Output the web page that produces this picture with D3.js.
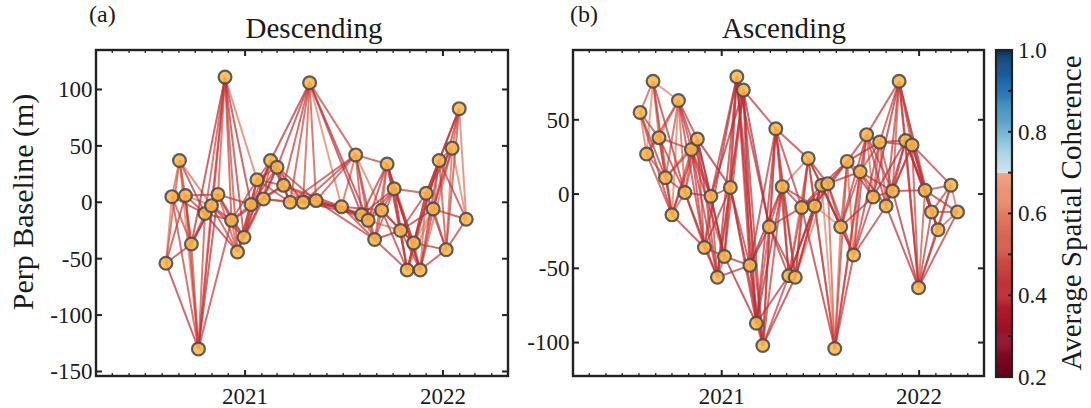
<!DOCTYPE html>
<html>
<head>
<meta charset="utf-8">
<script src="https://cdn.jsdelivr.net/npm/d3@7"></script>
<style>
  body { margin: 0; background: #fff; }
  text { font-family: "Liberation Serif", "Times New Roman", serif; fill: #1a1a1a; }
</style>
</head>
<body>
<svg id="chart" width="1091" height="408"></svg>
<script>
// descending track: acquisition dates and perpendicular baselines (m)
const descDates = ["2020-08-08","2020-08-19","2020-09-02","2020-09-13","2020-09-24","2020-10-07","2020-10-19","2020-10-31","2020-11-12","2020-11-25","2020-12-07","2020-12-18","2020-12-30","2021-01-12","2021-01-23","2021-02-04","2021-02-17","2021-03-01","2021-03-13","2021-03-25","2021-04-18","2021-04-30","2021-05-12","2021-06-28","2021-07-24","2021-08-04","2021-08-16","2021-08-28","2021-09-10","2021-09-20","2021-10-03","2021-10-15","2021-10-27","2021-11-08","2021-11-20","2021-12-01","2021-12-14","2021-12-25","2022-01-07","2022-01-18","2022-01-31","2022-02-13"]
const descBperp = [-54,5,37,6,-37,-130,-10,-3,7,111,-16,-44,-31,-2,20,3,37,31,15,0,0,106,1.5,-4,42,-11,-16,-33,-7,34,12,-25,-60,-36,-60,8,-6,37,-42,48,83,-15]

// ascending track
const ascDates = ["2020-08-03","2020-08-15","2020-08-27","2020-09-07","2020-09-19","2020-10-01","2020-10-13","2020-10-25","2020-11-06","2020-11-17","2020-11-30","2020-12-12","2020-12-24","2021-01-06","2021-01-17","2021-01-29","2021-02-10","2021-02-22","2021-03-06","2021-03-18","2021-03-30","2021-04-11","2021-04-23","2021-05-05","2021-05-17","2021-05-29","2021-06-10","2021-06-22","2021-07-05","2021-07-16","2021-07-29","2021-08-09","2021-08-21","2021-09-02","2021-09-14","2021-09-26","2021-10-08","2021-10-20","2021-11-01","2021-11-13","2021-11-25","2021-12-07","2021-12-19","2021-12-31","2022-01-12","2022-01-24","2022-02-05","2022-03-01","2022-03-13"]
const ascBperp = [55,27,76,38,11,-14,63,1,30,37,-36,-1.5,-56,-42,4.5,79,70,-48,-87,-102,-22,44,5,-55,-56,-9,24,-8,6,7,-104,-22,22,-41,15,40,-2,35,-8,2,76,36,33,-63,2.5,-12,-24,6,-12]

// average coherence of each interferogram, grouped by how many acquisitions apart the pair is
const descCoh = [
  [0.60,0.55,0.58,0.52,0.50,0.48,0.56,0.55,0.50,0.47,0.52,0.55,0.58,0.53,0.56,0.50,0.55,0.52,0.57,0.55,0.50,0.48,0.45,0.52,0.48,0.56,0.54,0.52,0.50,0.55,0.53,0.50,0.48,0.52,0.55,0.50,0.53,0.48,0.55,0.50,0.58],
  [0.50,0.62,0.48,0.45,0.47,0.52,0.46,0.50,0.44,0.48,0.45,0.50,0.47,0.52,0.46,0.48,0.45,0.50,0.62,0.47,0.44,0.60,0.48,0.45,0.50,0.46,0.48,0.52,0.45,0.50,0.47,0.45,0.50,0.48,0.46,0.52,0.45,0.50,0.47,0.60],
  [0.45,0.48,0.60,0.44,0.46,0.42,0.48,0.45,0.50,0.43,0.47,0.45,0.62,0.44,0.48,0.46,0.43,0.47,0.45,0.58,0.44,0.46,0.42,0.48,0.45,0.60,0.44,0.47,0.45,0.43,0.48,0.46,0.44,0.62,0.45,0.47,0.43,0.46,0.45],
  [0.43,0.46,0.44,0.58,0.42,0.45,0.43,0.47,0.44,0.42,0.46,0.60,0.43,0.45,0.44,0.42,0.62,0.44,0.46,0.43,0.45,0.42,0.44,0.46,0.58,0.43,0.45,0.42,0.44,0.46,0.43,0.45,0.60,0.42,0.44,0.46,0.43,0.45],
  [0.42,0.44,0.56,0.43,0.41,0.45,0.42,0.44,0.43,0.58,0.42,0.45,0.41,0.43,0.44,0.60,0.42,0.44,0.43,0.45,0.41,0.42,0.44,0.43,0.45,0.42,0.58,0.44,0.43,0.41,0.45,0.42,0.44,0.43,0.56,0.42,0.44]
]
const ascCoh = [
  [0.58,0.62,0.55,0.52,0.56,0.60,0.53,0.55,0.50,0.48,0.52,0.47,0.50,0.54,0.46,0.52,0.48,0.45,0.50,0.47,0.52,0.49,0.46,0.50,0.53,0.47,0.55,0.50,0.48,0.52,0.56,0.50,0.54,0.58,0.52,0.55,0.50,0.53,0.57,0.50,0.48,0.52,0.46,0.50,0.55,0.58,0.52,0.56],
  [0.50,0.53,0.60,0.47,0.50,0.52,0.46,0.48,0.44,0.47,0.45,0.43,0.48,0.45,0.44,0.46,0.43,0.45,0.47,0.44,0.46,0.43,0.45,0.47,0.44,0.60,0.46,0.44,0.62,0.45,0.47,0.44,0.50,0.46,0.48,0.45,0.58,0.47,0.45,0.43,0.46,0.44,0.48,0.45,0.50,0.47,0.52],
  [0.47,0.50,0.46,0.58,0.45,0.48,0.44,0.46,0.42,0.45,0.43,0.44,0.42,0.45,0.43,0.42,0.44,0.41,0.43,0.45,0.42,0.44,0.43,0.58,0.42,0.44,0.43,0.60,0.45,0.42,0.44,0.46,0.43,0.45,0.47,0.44,0.42,0.46,0.43,0.45,0.44,0.42,0.46,0.44,0.47,0.45],
  [0.45,0.47,0.60,0.44,0.46,0.43,0.45,0.42,0.44,0.41,0.43,0.42,0.44,0.41,0.43,0.42,0.40,0.43,0.41,0.44,0.42,0.43,0.58,0.41,0.43,0.42,0.44,0.62,0.42,0.44,0.43,0.45,0.42,0.44,0.43,0.45,0.41,0.43,0.44,0.42,0.45,0.43,0.44,0.46,0.43],
  [0.44,0.46,0.43,0.45,0.58,0.42,0.44,0.41,0.43,0.40,0.42,0.41,0.43,0.40,0.42,0.41,0.43,0.40,0.42,0.41,0.43,0.42,0.44,0.41,0.60,0.42,0.43,0.41,0.44,0.42,0.58,0.43,0.41,0.44,0.42,0.43,0.41,0.44,0.42,0.43,0.45,0.42,0.44,0.43]
]

const yTicksDesc = [-150, -100, -50, 0, 50, 100]
const yTicksAsc = [-100, -50, 0, 50]
const xTickLabels = ["2021", "2022"]
const cbarTicks = [0.2, 0.3, 0.4, 0.5, 0.6, 0.7, 0.8, 0.9, 1.0]
const cbarLabels = [0.2, 0.4, 0.6, 0.8, 1.0]

const parse = d3.timeParse("%Y-%m-%d")
const svg = d3.select("#chart")

// red half below 0.7, blue half above (the pale middle of RdBu is cut out)
const redPart = d3.scaleLinear().domain([0.2, 0.367, 0.533, 0.7])
  .range(["#67001f", "#b2182b", "#d6604d", "#f4a582"]).interpolate(d3.interpolateRgb).clamp(true)
const bluePart = d3.scaleLinear().domain([0.7, 0.775, 0.85, 0.925, 1.0])
  .range(["#d1e5f0", "#92c5de", "#4393c3", "#2166ac", "#053061"]).clamp(true)
const cmap = v => v <= 0.7 ? redPart(v) : bluePart(v)

const xDomain = [parse("2020-04-01"), parse("2022-05-01")]

function panel(opt) {
  const x = d3.scaleTime().domain(xDomain).range([opt.x0, opt.x1])
  const y = d3.scaleLinear().domain(opt.ydom).range([opt.y1, opt.y0])
  const g = svg.append("g")

  const pts = opt.dates.map((d, i) => ({ t: parse(d), b: opt.bperp[i] }))
  let edges = []
  opt.coh.forEach((arr, k) => {
    arr.forEach((c, i) => {
      const j = i + k + 1
      if (j < pts.length) edges.push({ a: pts[i], b: pts[j], c: c })
    })
  })
  edges.sort((p, q) => q.c - p.c)

  g.append("g").selectAll("line").data(edges).join("line")
    .attr("x1", d => x(d.a.t)).attr("y1", d => y(d.a.b))
    .attr("x2", d => x(d.b.t)).attr("y2", d => y(d.b.b))
    .attr("stroke", d => cmap(d.c))
    .attr("stroke-width", 2)
    .attr("stroke-opacity", 0.72)

  g.append("g").selectAll("circle").data(pts).join("circle")
    .attr("cx", d => x(d.t)).attr("cy", d => y(d.b))
    .attr("r", 6.4)
    .attr("fill", "#fdb548").attr("fill-opacity", 0.88)
    .attr("stroke", "#4d4d4d").attr("stroke-opacity", 0.9).attr("stroke-width", 2.2)

  // frame with inward ticks on all sides
  const months = d3.timeMonth.range(d3.timeMonth.offset(xDomain[0], 1), xDomain[1])
  const ax = g.append("g").attr("stroke", "#222").attr("stroke-width", 1.3)
  months.forEach(m => {
    const major = m.getMonth() === 0
    const len = major ? 6 : 3
    const px = x(m)
    ax.append("line").attr("x1", px).attr("x2", px).attr("y1", opt.y1).attr("y2", opt.y1 - len)
      .attr("stroke-width", major ? 2 : 1.3)
    ax.append("line").attr("x1", px).attr("x2", px).attr("y1", opt.y0).attr("y2", opt.y0 + len)
      .attr("stroke-width", major ? 2 : 1.3)
  })
  opt.yticks.forEach(v => {
    ax.append("line").attr("x1", opt.x0).attr("x2", opt.x0 + 6).attr("y1", y(v)).attr("y2", y(v)).attr("stroke-width", 2)
    ax.append("line").attr("x1", opt.x1).attr("x2", opt.x1 - 6).attr("y1", y(v)).attr("y2", y(v)).attr("stroke-width", 2)
  })
  g.append("rect").attr("x", opt.x0).attr("y", opt.y0)
    .attr("width", opt.x1 - opt.x0).attr("height", opt.y1 - opt.y0)
    .attr("fill", "none").attr("stroke", "#222").attr("stroke-width", 2.4)

  g.append("g").selectAll("text").data(opt.yticks).join("text")
    .attr("x", opt.x0 - 3.5).attr("y", d => y(d)).attr("dy", "0.34em")
    .attr("text-anchor", "end").attr("font-size", 23)
    .text(d => d)

  g.append("g").selectAll("text").data(xTickLabels).join("text")
    .attr("x", d => x(parse(d + "-01-01"))).attr("y", 404)
    .attr("text-anchor", "middle").attr("font-size", 23)
    .text(d => d)

  g.append("text").attr("x", opt.titleX).attr("y", 38)
    .attr("text-anchor", "middle").attr("font-size", 29).text(opt.title)
  g.append("text").attr("x", opt.tagX).attr("y", 22)
    .attr("font-size", 24).text(opt.tag)
}

panel({ dates: descDates, bperp: descBperp, coh: descCoh, x0: 96, x1: 508, y0: 50, y1: 376,
  ydom: [-154, 135], yticks: yTicksDesc, title: "Descending", titleX: 314, tag: "(a)", tagX: 89 })
panel({ dates: ascDates, bperp: ascBperp, coh: ascCoh, x0: 573, x1: 984, y0: 50, y1: 376,
  ydom: [-122.5, 97], yticks: yTicksAsc, title: "Ascending", titleX: 784, tag: "(b)", tagX: 570 })

svg.append("text").attr("transform", "translate(33,202) rotate(-90)")
  .attr("text-anchor", "middle").attr("font-size", 30).text("Perp Baseline (m)")

// colorbar
const cb = { x0: 996, x1: 1012, y0: 50, y1: 377 }
const cy = d3.scaleLinear().domain([0.2, 1.0]).range([cb.y1, cb.y0])
const steps = d3.range(0.2, 1.0, 0.0025)
svg.append("g").selectAll("rect").data(steps).join("rect")
  .attr("x", cb.x0).attr("width", cb.x1 - cb.x0)
  .attr("y", d => cy(d + 0.0025)).attr("height", d => cy(d) - cy(d + 0.0025) + 0.5)
  .attr("fill", d => cmap(d + 0.00125))
svg.append("g").selectAll("line").data(cbarTicks).join("line")
  .attr("x1", cb.x1).attr("x2", cb.x1 - 4).attr("y1", d => cy(d)).attr("y2", d => cy(d))
  .attr("stroke", "#222").attr("stroke-width", 2)
svg.append("rect").attr("x", cb.x0).attr("y", cb.y0)
  .attr("width", cb.x1 - cb.x0).attr("height", cb.y1 - cb.y0)
  .attr("fill", "none").attr("stroke", "#222").attr("stroke-width", 2.2)
svg.append("g").selectAll("text").data(cbarLabels).join("text")
  .attr("x", 1018).attr("y", d => cy(d)).attr("dy", "0.34em")
  .attr("font-size", 23).text(d => d3.format(".1f")(d))
svg.append("text").attr("transform", "translate(1081,213) rotate(-90)")
  .attr("text-anchor", "middle").attr("font-size", 29).text("Average Spatial Coherence")
</script>
</body>
</html>
